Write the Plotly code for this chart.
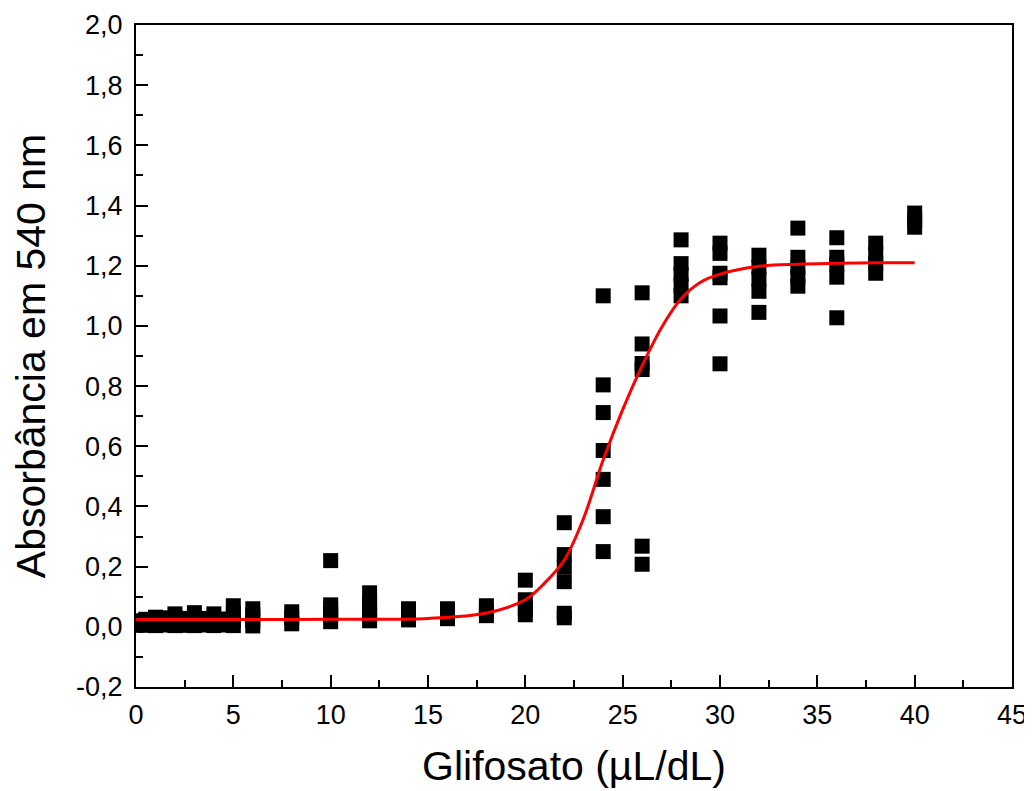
import plotly.graph_objects as go

# Concentrations of glyphosate (µL/dL)
doses = [0, 0.5, 1, 1.5, 2, 2.5, 3, 3.5, 4, 4.5, 5, 6, 8, 10, 12, 14, 16, 18,
         20, 22, 24, 26, 28, 30, 32, 34, 36, 38, 40]

# Absorbance readings (540 nm) at each concentration
readings = [
    [0.005, 0.012, 0.020],
    [0.005, 0.015, 0.025],
    [0.004, 0.015, 0.032],
    [0.006, 0.018, 0.030],
    [0.004, 0.020, 0.043],
    [0.005, 0.015, 0.028],
    [0.004, 0.020, 0.047],
    [0.006, 0.015, 0.028],
    [0.004, 0.020, 0.043],
    [0.006, 0.015, 0.026],
    [0.004, 0.020, 0.045, 0.070],
    [0.003, 0.020, 0.040, 0.060],
    [0.010, 0.030, 0.050],
    [0.017, 0.040, 0.060, 0.073, 0.220],
    [0.020, 0.040, 0.060, 0.080, 0.113],
    [0.023, 0.040, 0.060],
    [0.027, 0.045, 0.060],
    [0.037, 0.055, 0.070],
    [0.040, 0.060, 0.090, 0.155],
    [0.030, 0.045, 0.150, 0.200, 0.240, 0.346],
    [0.250, 0.366, 0.490, 0.586, 0.712, 0.804, 1.100],
    [0.208, 0.268, 0.855, 0.875, 0.940, 1.110],
    [1.100, 1.135, 1.171, 1.207, 1.286],
    [0.874, 1.033, 1.160, 1.175, 1.241, 1.275],
    [1.045, 1.115, 1.155, 1.195, 1.235],
    [1.132, 1.162, 1.195, 1.228, 1.325],
    [1.027, 1.162, 1.205, 1.228, 1.293],
    [1.175, 1.208, 1.241, 1.275],
    [1.328, 1.350, 1.375],
]

# Fitted sigmoid curve
fit_x = [0, 5, 10, 15, 18, 20, 21, 22, 23, 24, 25, 26, 27, 28, 29, 30, 32, 34, 36, 38, 40]
fit_y = [0.024, 0.024, 0.025, 0.028, 0.046, 0.090, 0.146, 0.222, 0.362, 0.555, 0.722,
         0.868, 0.995, 1.090, 1.145, 1.172, 1.198, 1.205, 1.208, 1.210, 1.210]

y_ticks = [-0.2, 0.0, 0.2, 0.4, 0.6, 0.8, 1.0, 1.2, 1.4, 1.6, 1.8, 2.0]
y_labels = ["-0,2", "0,0", "0,2", "0,4", "0,6", "0,8", "1,0", "1,2", "1,4", "1,6", "1,8", "2,0"]
x_ticks = [0, 5, 10, 15, 20, 25, 30, 35, 40, 45]
x_labels = ["0", "5", "10", "15", "20", "25", "30", "35", "40", "45"]

xs, ys = [], []
for d, vals in zip(doses, readings):
    for v in vals:
        xs.append(d)
        ys.append(v)

fig = go.Figure()
fig.add_trace(go.Scatter(
    x=xs, y=ys, mode="markers",
    marker=dict(symbol="square", size=15, color="black", line=dict(width=0)),
    showlegend=False,
))
fig.add_trace(go.Scatter(
    x=fit_x, y=fit_y, mode="lines", line=dict(color="#ff0000", width=3, shape="spline"),
    showlegend=False,
))

font_family = "Liberation Sans, Arial, sans-serif"
axis_common = dict(
    showline=True, linecolor="black", linewidth=2, mirror=True,
    ticks="inside", ticklen=12, tickwidth=2, tickcolor="black",
    showgrid=False, zeroline=False, automargin=False,
    tickfont=dict(family=font_family, size=27, color="black"),
)

fig.update_xaxes(
    range=[0, 45], tickvals=x_ticks, ticktext=x_labels,
    minor=dict(ticks="inside", ticklen=7, tickwidth=2, tickcolor="black", dtick=2.5, tick0=0),
    ticklabelstandoff=3,
    title=dict(text="Glifosato (µL/dL)", font=dict(family=font_family, size=41, color="black"), standoff=22),
    **axis_common,
)
fig.update_yaxes(
    range=[-0.2, 2.0], tickvals=y_ticks, ticktext=y_labels,
    minor=dict(ticks="inside", ticklen=7, tickwidth=2, tickcolor="black", dtick=0.1, tick0=0),
    ticklabelstandoff=6,
    title=dict(text="Absorbância em 540 nm", font=dict(family=font_family, size=41, color="black"), standoff=21),
    **axis_common,
)

fig.update_layout(
    width=1032, height=791,
    margin=dict(l=128, r=28, t=17, b=112),
    paper_bgcolor="white", plot_bgcolor="white",
    font=dict(family=font_family, color="black"),
)

fig.write_html("out.html")
